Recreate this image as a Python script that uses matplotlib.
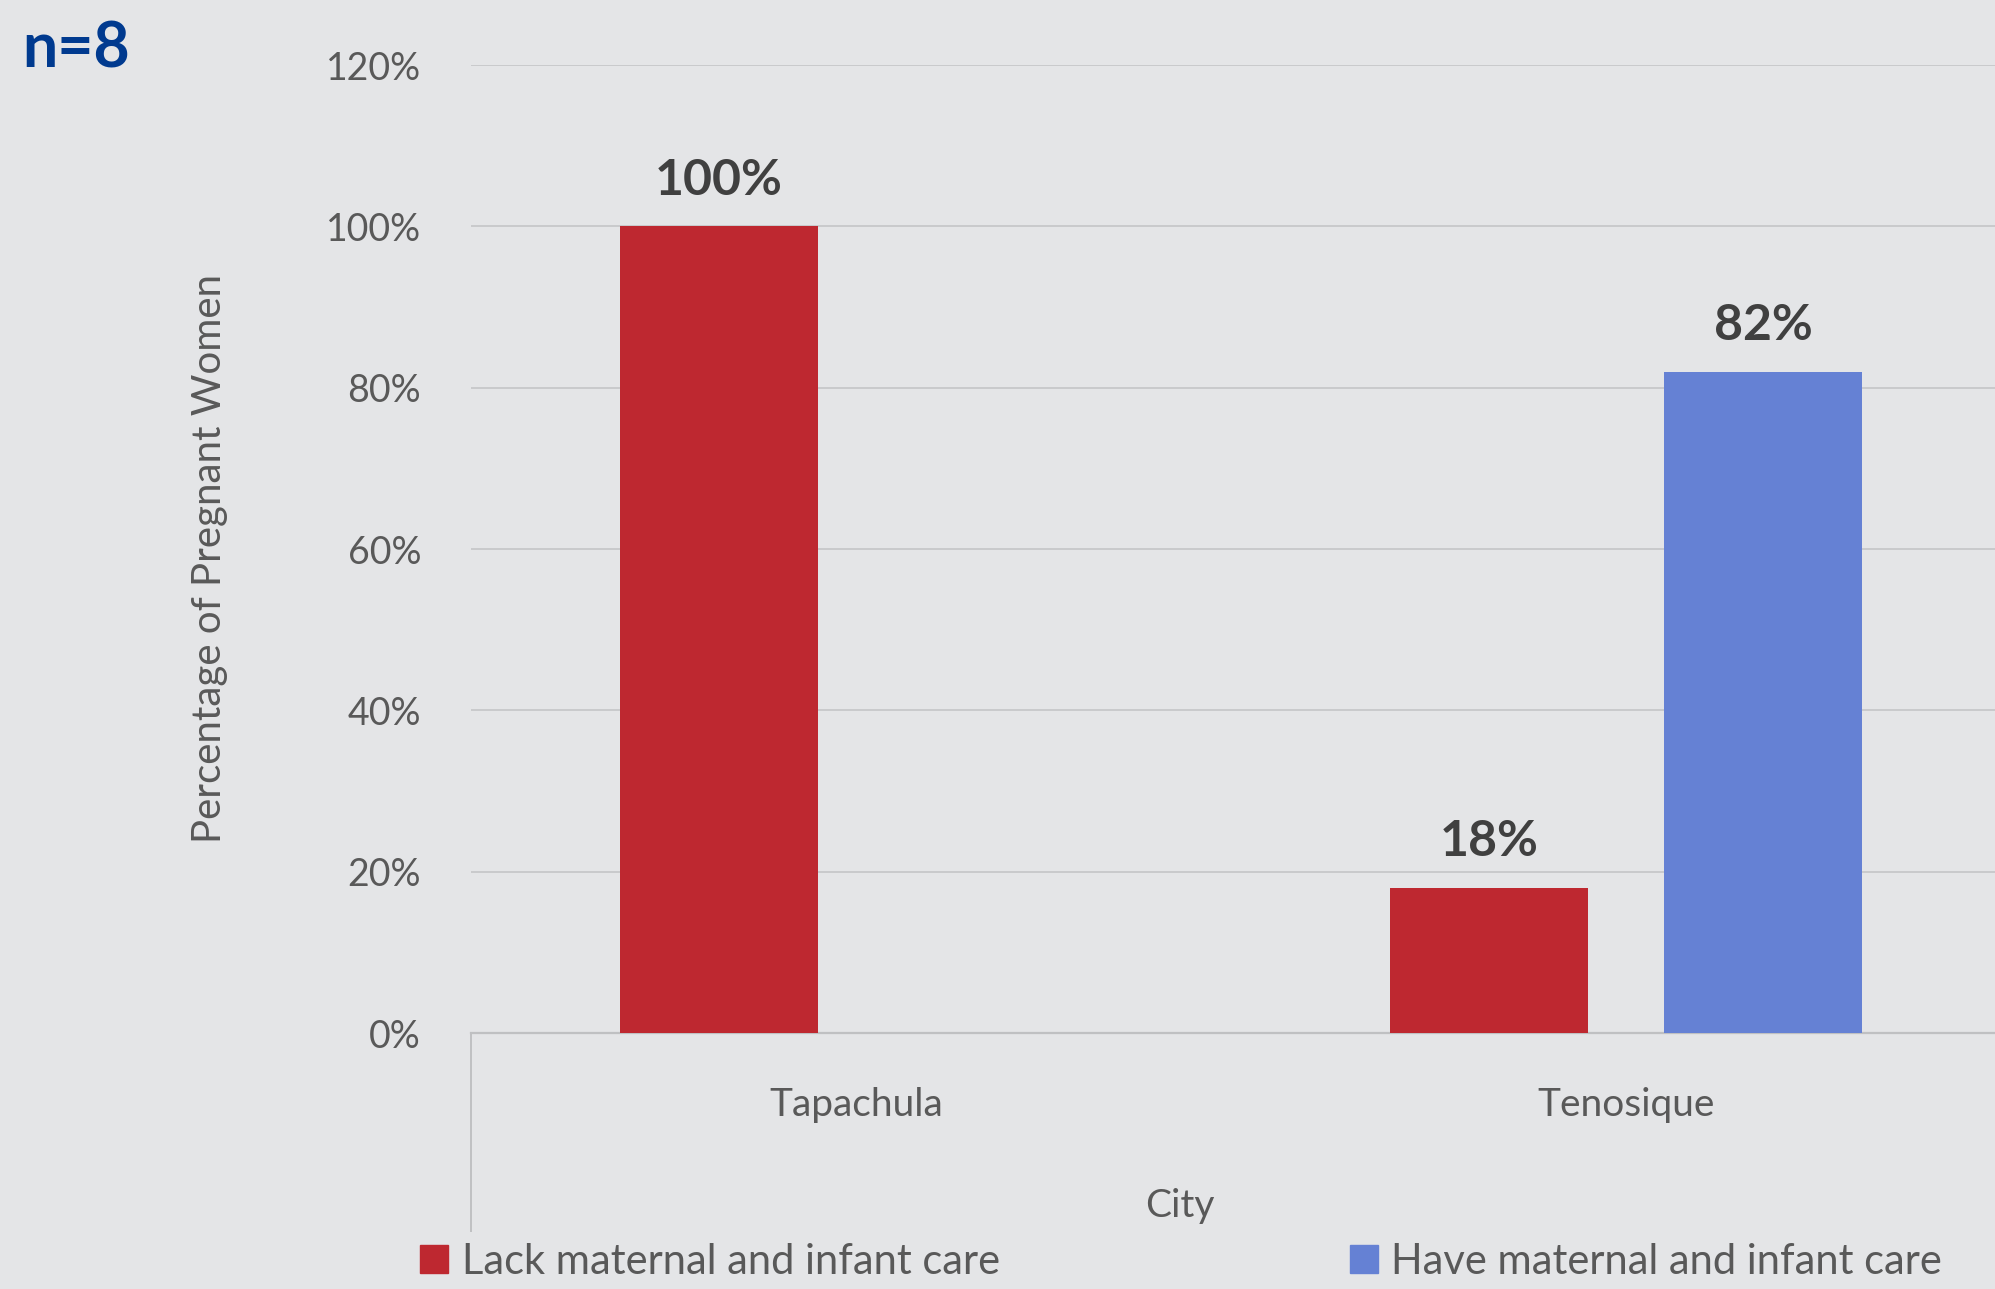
import numpy as np
import matplotlib
matplotlib.use('Agg')
from matplotlib import pyplot as plt
from matplotlib.lines import Line2D
from matplotlib.patches import Patch

# survey results, percentage of pregnant women by city
cities = ['Tapachula', 'Tenosique']
lack_care = [100, 18]
have_care = [0, 82]
series_names = ['Lack maternal and infant care', 'Have maternal and infant care']
sample_note = 'n=8'

bg = '#e4e5e7'
red = '#be2830'
blue = '#6581d4'
txt = '#595959'

plt.rcParams['font.family'] = ['Lato', 'DejaVu Sans']

fig = plt.figure(figsize=(19.95, 12.89), dpi=100, facecolor=bg)
ax = fig.add_axes([471 / 1995, 1 - 1033 / 1289, 1540 / 1995, 968 / 1289])
ax.set_facecolor(bg)

x = np.arange(len(cities))
width = 0.256
offset = 0.178
b1 = ax.bar(x - offset, lack_care, width, color=red, zorder=3)
b2 = ax.bar(x + offset, have_care, width, color=blue, zorder=3)

for bars, vals in ((b1, lack_care), (b2, have_care)):
    ax.bar_label(bars, labels=[f'{v}%' if v else '' for v in vals], padding=17,
                 fontsize=36, fontweight='bold', color='#404040')

ax.set_xlim(-0.5, 1.5)
ax.set_ylim(0, 120)
ax.set_yticks(range(0, 121, 20))
ax.set_yticklabels([f'{t}%' for t in range(0, 121, 20)])
ax.set_xticks(x)
ax.set_xticklabels(cities)
ax.tick_params(axis='both', length=0, labelsize=27, labelcolor=txt)
ax.tick_params(axis='x', labelsize=28, pad=39)
ax.tick_params(axis='y', pad=36)
ax.grid(axis='y', color='#c9cacc', linewidth=1.4, zorder=0)

for side in ('top', 'right', 'left'):
    ax.spines[side].set_visible(False)
ax.spines['bottom'].set_color('#bfc0c2')
ax.spines['bottom'].set_linewidth(1.6)

ax.set_ylabel('Percentage of Pregnant Women', fontsize=29, color=txt)
ax.yaxis.set_label_coords(-0.158, 0.49)
ax.set_xlabel('City', fontsize=28, color=txt)
ax.xaxis.set_label_coords(0.46, -0.16)

# category axis line running down past the tick labels
fig.add_artist(Line2D([471 / 1995, 471 / 1995], [1 - 1033 / 1289, 1 - 1231 / 1289],
                      transform=fig.transFigure, color='#bfc0c2', linewidth=1.4))

fig.text(22 / 1995, 1 - 21 / 1289, sample_note, fontsize=45, fontweight='bold',
         color='#003a8f', ha='left', va='top')

handles = [Patch(color=red), Patch(color=blue)]
fig.legend(handles, series_names, loc='center', bbox_to_anchor=(0.592, 0.021), ncol=2,
           frameon=False, fontsize=30, labelcolor=txt, handlelength=0.67,
           handleheight=0.65, handletextpad=0.33, columnspacing=8.4,
           borderpad=0.1)

fig.savefig('out.png', dpi=100, facecolor=bg)
